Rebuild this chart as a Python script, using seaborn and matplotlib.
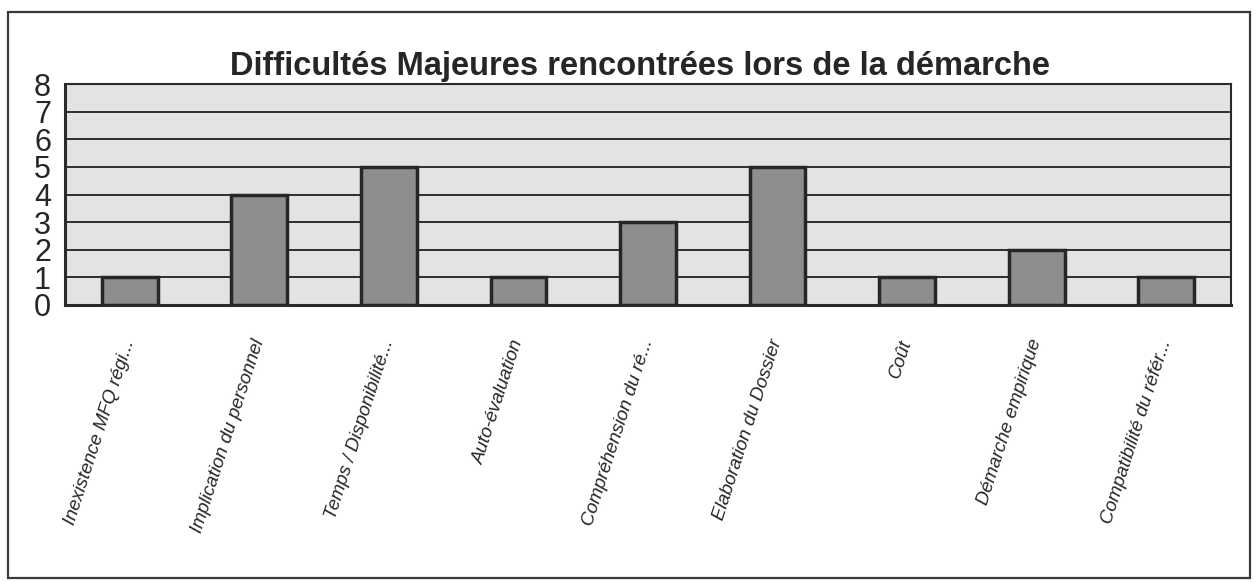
import numpy as np
import matplotlib.pyplot as plt
import seaborn as sns
from matplotlib.patches import Rectangle

# data
categories = ['Inexistence MFQ régi...', 'Implication du personnel', 'Temps / Disponibilité...',
              'Auto-évaluation', 'Compréhension du ré...', 'Elaboration du Dossier',
              'Coût', 'Démarche empirique', 'Compatibilité du référ...']
counts = [1, 4, 5, 1, 3, 5, 1, 2, 1]
y_ticks = [0, 1, 2, 3, 4, 5, 6, 7, 8]
title = 'Difficultés Majeures rencontrées lors de la démarche'

sns.set_style('white')
plt.rcParams['font.family'] = ['Liberation Sans', 'DejaVu Sans']

W, H = 1256, 582
fig = plt.figure(figsize=(W / 100, H / 100), dpi=100)
ax = fig.add_axes([65 / W, 1 - 305 / H, (1231 - 65) / W, (305 - 84) / H])
ax.set_facecolor('#e3e3e3')

sns.barplot(x=categories, y=counts, color='#8e8e8e', saturation=1, width=0.43,
            edgecolor='#262626', linewidth=2.5, ax=ax, zorder=3)

ax.set_xlim(-0.5, len(categories) - 0.5)
ax.set_ylim(0, 8)
ax.set_yticks(y_ticks)
ax.set_yticklabels([str(t) for t in y_ticks], fontsize=22)
ax.yaxis.grid(True, color='#2e2e2e', linewidth=1.4)
ax.set_axisbelow(True)
ax.set_xlabel('')
ax.set_ylabel('')

for s in ax.spines.values():
    s.set_visible(True)
    s.set_color('#2a2a2a')
    s.set_linewidth(1.5)
ax.spines['left'].set_linewidth(2.2)
ax.spines['bottom'].set_linewidth(2.2)

# category boundaries get the tick marks, labels sit at the centres
ax.set_xticks(np.arange(-0.5, len(categories), 1), minor=True)
ax.tick_params(axis='x', which='minor', direction='out', length=7, width=1.5, color='#2a2a2a')
ax.tick_params(axis='x', which='major', length=0, pad=25)
ax.tick_params(axis='y', direction='out', length=5, width=1.4, color='#2a2a2a', pad=5)
for lab in ax.get_xticklabels():
    lab.set_rotation(72)
    lab.set_ha('right')
    lab.set_va('center')
    lab.set_rotation_mode('anchor')
    lab.set_fontstyle('italic')
    lab.set_fontsize(13.5)

fig.text(640 / W, 1 - 66 / H, title, ha='center', va='center', fontsize=23.5, fontweight='bold')

# outer chart frame
fig.patches.append(Rectangle((8 / W, 1 - 578 / H), 1242 / W, 566 / H, transform=fig.transFigure,
                             fill=False, edgecolor='#3a3a3a', linewidth=1.6))

fig.savefig('out.png', dpi=100)
